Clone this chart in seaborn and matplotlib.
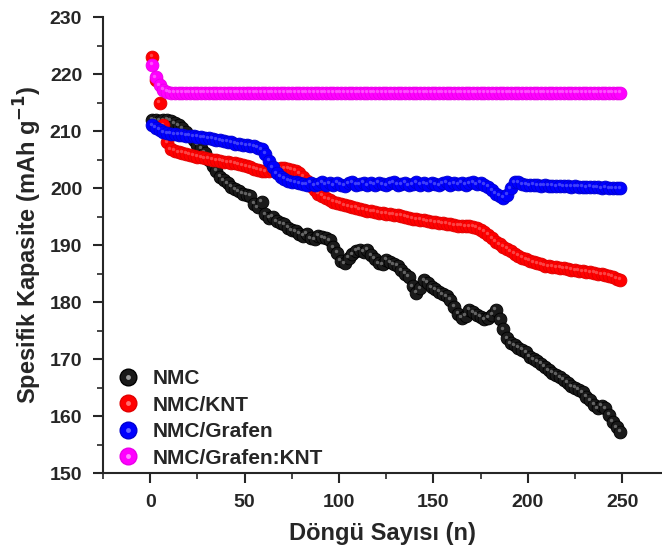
import numpy as np
import pandas as pd
import matplotlib
matplotlib.use("Agg")
import matplotlib.pyplot as plt
import matplotlib.transforms as mtransforms
from matplotlib.lines import Line2D
from matplotlib.legend_handler import HandlerTuple
import seaborn as sns

# cycle numbers (every second cycle)
cycles = list(range(1, 250, 2))

nmc = [212.0, 211.9, 211.8, 211.9, 212.0, 211.8, 211.4, 211.0, 210.5, 209.8,
       209.2, 208.4, 207.6, 207.0, 206.2, 205.0, 203.8, 203.0, 202.0, 201.4,
       200.8, 200.2, 199.8, 199.4, 199.0, 198.8, 198.6, 197.2, 196.6, 197.6,
       195.4, 194.8, 195.0, 194.2, 193.8, 193.6, 193.0, 192.6, 192.4, 192.0,
       191.6, 192.0, 191.2, 191.0, 191.6, 191.4, 191.2, 190.8, 189.6, 188.6,
       187.2, 186.8, 187.8, 188.4, 189.0, 189.2, 188.8, 189.2, 188.2, 187.6,
       186.8, 186.6, 187.4, 187.0, 186.6, 186.4, 185.6, 185.0, 184.4, 182.8,
       181.6, 182.4, 183.8, 183.4, 182.6, 182.2, 181.8, 181.4, 181.0, 180.4,
       179.2, 177.9, 177.2, 177.6, 178.6, 178.2, 177.8, 177.4, 177.0, 177.2,
       177.8, 178.6, 177.0, 175.2, 173.6, 172.8, 172.4, 172.0, 171.6, 171.2,
       170.4, 170.0, 169.6, 169.2, 168.6, 168.0, 167.6, 167.2, 166.8, 166.4,
       165.8, 165.2, 165.0, 164.6, 164.2, 163.4, 162.8, 162.0, 161.4, 161.8,
       161.4, 160.2, 159.0, 158.0, 157.2]

nmc_knt = [223.0, 219.0, 215.0, 211.0, 208.0, 206.8, 206.5, 206.3, 206.2, 206.0,
           205.8, 205.7, 205.5, 205.4, 205.2, 205.1, 205.0, 204.9, 204.8, 204.6,
           204.5, 204.4, 204.3, 204.2, 204.0, 203.8, 203.6, 203.4, 203.2, 203.0,
           202.9, 203.0, 203.2, 203.4, 203.5, 203.5, 203.4, 203.2, 203.0, 202.6,
           202.0, 201.2, 200.4, 199.6, 199.0, 198.6, 198.2, 197.9, 197.6, 197.4,
           197.2, 197.0, 196.8, 196.6, 196.5, 196.3, 196.2, 196.0, 195.9, 195.8,
           195.7, 195.6, 195.5, 195.4, 195.3, 195.2, 195.1, 195.0, 194.8, 194.6,
           194.5, 194.4, 194.3, 194.2, 194.1, 194.0, 193.9, 193.8, 193.7, 193.6,
           193.5, 193.4, 193.4, 193.3, 193.3, 193.2, 193.0, 192.7, 192.3, 191.8,
           191.2, 190.6, 190.1, 189.7, 189.3, 188.9, 188.5, 188.1, 187.8, 187.5,
           187.2, 187.0, 186.8, 186.6, 186.4, 186.3, 186.2, 186.1, 186.0, 185.9,
           185.8, 185.7, 185.6, 185.5, 185.4, 185.3, 185.2, 185.1, 185.0, 184.9,
           184.8, 184.6, 184.4, 184.1, 183.9]

nmc_grafen = [211.0, 210.6, 210.2, 209.8, 209.6, 209.5, 209.4, 209.3, 209.3, 209.2,
              209.2, 209.1, 209.0, 208.9, 208.8, 208.7, 208.6, 208.5, 208.4, 208.2,
              208.1, 208.0, 207.8, 207.7, 207.6, 207.5, 207.4, 207.3, 207.1, 206.8,
              206.0, 204.8, 203.6, 202.6, 202.0, 201.6, 201.3, 201.1, 201.0, 200.8,
              200.7, 200.6, 200.9, 200.5, 200.7, 201.0, 200.6, 200.8, 200.5, 200.9,
              200.6, 200.4, 200.8, 201.0, 200.6, 200.7, 200.9, 200.5, 200.8, 200.6,
              200.9, 200.7, 200.5, 200.8, 201.0, 200.6, 200.7, 200.9, 200.5, 200.7,
              201.0, 200.6, 200.8, 200.6, 200.9, 200.7, 200.5, 200.8, 201.0, 200.6,
              200.8, 200.7, 200.9, 200.6, 200.8, 201.0, 200.7, 200.9, 200.6, 200.2,
              199.6, 199.0, 198.6, 198.3, 198.8, 200.0, 201.0, 201.0, 200.7, 200.6,
              200.5, 200.6, 200.5, 200.4, 200.5, 200.4, 200.4, 200.3, 200.4, 200.3,
              200.3, 200.2, 200.3, 200.2, 200.2, 200.1, 200.2, 200.1, 200.1, 200.0,
              200.1, 200.0, 200.0, 200.0, 200.0]

nmc_grafen_knt = [221.6, 219.4, 218.0, 217.2, 216.9] + [216.7] * 120

series = ["NMC", "NMC/KNT", "NMC/Grafen", "NMC/Grafen:KNT"]
colors = {"NMC": "#1a1a1a", "NMC/KNT": "#ff0000",
          "NMC/Grafen": "#0000ff", "NMC/Grafen:KNT": "#ff00ff"}
edges = {"NMC": "#000000", "NMC/KNT": "#e00000",
         "NMC/Grafen": "#0000d0", "NMC/Grafen:KNT": "#e800e8"}
shine = {"NMC": "#9a9a9a", "NMC/KNT": "#ff7070",
         "NMC/Grafen": "#6a6aff", "NMC/Grafen:KNT": "#ff88ff"}

df = pd.DataFrame({
    "cycle": cycles * 4,
    "cap": nmc + nmc_knt + nmc_grafen + nmc_grafen_knt,
    "sample": sum([[s] * len(cycles) for s in series], []),
})

sns.set_style("ticks")
plt.rcParams["font.family"] = ["Liberation Sans", "DejaVu Sans"]
plt.rcParams["font.weight"] = "bold"

fig = plt.figure(figsize=(6.62, 5.52), dpi=100)
ax = fig.add_axes([0.1556, 0.1431, 0.8444, 0.8261])

for s in series:
    sub = df[df["sample"] == s]
    sns.scatterplot(data=sub, x="cycle", y="cap", color=colors[s], s=85,
                    edgecolor=edges[s], linewidth=0.6, ax=ax, legend=False)
    # little highlight to give the spheres look
    off = mtransforms.offset_copy(ax.transData, fig=fig, x=-1.5, y=1.5, units="dots")
    ax.scatter(sub["cycle"], sub["cap"], s=6, color=shine[s], alpha=0.6,
               linewidths=0, transform=off)

ax.set_xlim(-25, 271)
ax.set_ylim(150, 230)
ax.set_xticks([0, 50, 100, 150, 200, 250])
ax.set_yticks(range(150, 231, 10))
ax.set_xticks(range(-25, 271, 25), minor=True)
ax.set_yticks(range(150, 231, 5), minor=True)
ax.tick_params(axis="both", which="major", length=7, width=1.5, labelsize=14,
               direction="out", pad=8)
ax.tick_params(axis="both", which="minor", length=4, width=1.2, direction="out")
for lbl in ax.get_xticklabels() + ax.get_yticklabels():
    lbl.set_fontweight("bold")
sns.despine(ax=ax)
ax.spines["left"].set_linewidth(1.5)
ax.spines["bottom"].set_linewidth(1.5)

ax.set_xlabel("Döngü Sayısı (n)", fontsize=17, fontweight="bold", labelpad=8)
ax.set_ylabel("Spesifik Kapasite (mAh g$^{\\mathbf{-1}}$)", fontsize=17,
              fontweight="bold", labelpad=4)

handles = [(Line2D([], [], ls="", marker="o", ms=12, mfc=colors[s], mec=edges[s]),
            Line2D([], [], ls="", marker="o", ms=3.5, mfc=shine[s], mec="none"))
           for s in series]
ax.legend(handles, series, loc="lower left", bbox_to_anchor=(0.0, -0.025),
          frameon=False, prop={"size": 15, "weight": "bold"},
          handler_map={tuple: HandlerTuple(ndivide=1, pad=0)},
          handlelength=0.8, handletextpad=0.8, labelspacing=0.36, borderaxespad=0.4)

fig.savefig("out.png", dpi=100)
